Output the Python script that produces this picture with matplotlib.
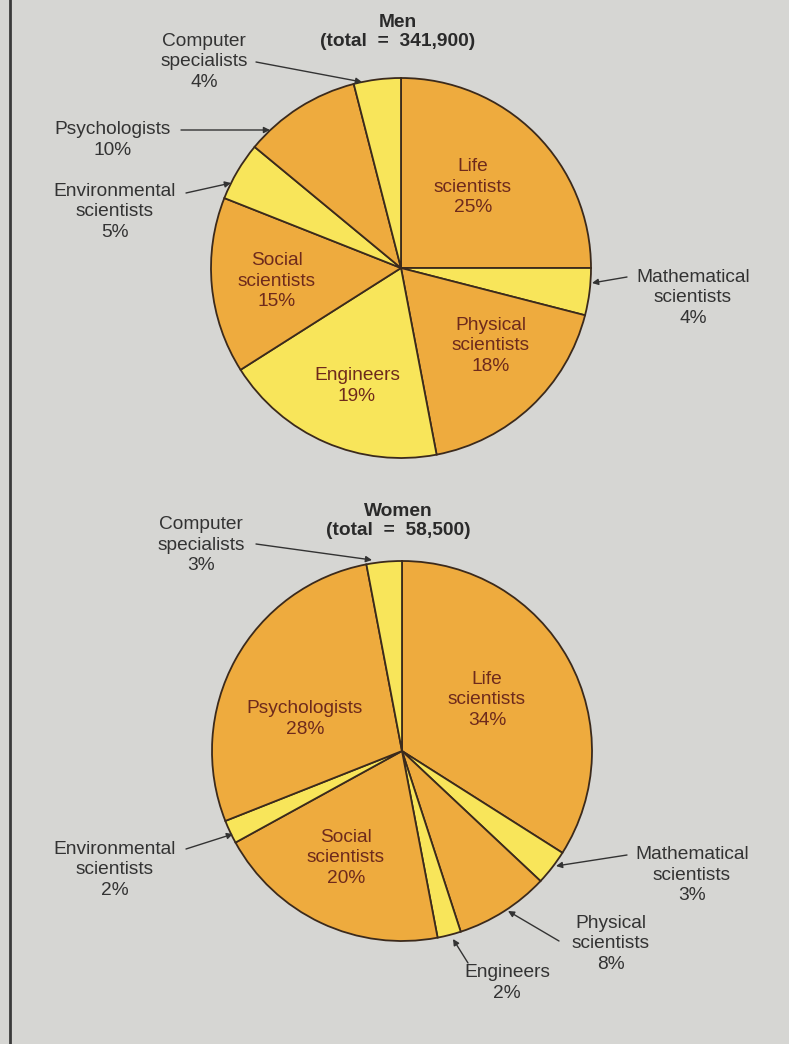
import matplotlib.pyplot as plt

# data
categories = ["Life scientists", "Mathematical scientists", "Physical scientists",
              "Engineers", "Social scientists", "Environmental scientists",
              "Psychologists", "Computer specialists"]
men_values = [25, 4, 18, 19, 15, 5, 10, 4]
women_values = [34, 3, 8, 2, 20, 2, 28, 3]
men_total = "341,900"
women_total = "58,500"

ORANGE = "#eeab3e"
YELLOW = "#f8e55a"
slice_colors = [ORANGE, YELLOW, ORANGE, YELLOW, ORANGE, YELLOW, ORANGE, YELLOW]

W, H = 789, 1044
FS = 13.8
plt.rcParams['font.family'] = ['Liberation Sans', 'DejaVu Sans']

fig = plt.figure(figsize=(W / 100, H / 100), dpi=100)
fig.patch.set_facecolor("#d6d6d3")
ax = fig.add_axes([0, 0, 1, 1])
ax.set_facecolor("#d6d6d3")


def P(x, y):
    # pixel position (from top-left) -> data coords
    return (x, H - y)


def label_text(i, values):
    name = categories[i]
    if name != "Psychologists" and name != "Engineers":
        name = name.replace(" ", "\n")
    return f"{name}\n{values[i]}%"


def draw_pie(values, center, inside, outside):
    ax.pie(values, colors=slice_colors, startangle=90, counterclock=False,
           center=P(*center), radius=190,
           wedgeprops=dict(edgecolor="#3b2a1c", linewidth=1.3))
    # labels inside the slices
    for i, (x, y) in inside.items():
        ax.text(*P(x, y), label_text(i, values), ha="center", va="center",
                fontsize=FS, color="#6e2a1c", linespacing=1.3)
    # labels outside, with arrows to the slice
    for i, (tx, ty, x0, y0, x1, y1) in outside.items():
        ax.text(*P(tx, ty), label_text(i, values), ha="center", va="center",
                fontsize=FS, color="#333333", linespacing=1.3)
        ax.annotate("", xy=P(x1, y1), xytext=P(x0, y0),
                    arrowprops=dict(arrowstyle="-|>", color="#333333", lw=1.0,
                                    mutation_scale=9, shrinkA=0, shrinkB=0))


# Men
draw_pie(men_values, (401, 268),
         inside={0: (473, 187), 2: (491, 346), 3: (357, 386), 4: (277, 281)},
         outside={7: (204, 62, 256, 62, 362, 82),
                  6: (113, 140, 181, 130, 270, 130),
                  5: (115, 212, 186, 193, 231, 183),
                  1: (693, 298, 627, 277, 592, 283)})
ax.text(*P(398, 32), f"Men\n(total  =  {men_total})", ha="center", va="center",
        fontsize=FS, fontweight="bold", color="#2a2a2a", linespacing=1.15)

# Women
draw_pie(women_values, (402, 751),
         inside={0: (487, 700), 6: (305, 719), 4: (346, 858)},
         outside={7: (201, 545, 256, 544, 372, 560),
                  5: (115, 870, 186, 849, 233, 834),
                  1: (692, 875, 627, 855, 556, 866),
                  2: (611, 944, 559, 941, 508, 911),
                  3: (507, 983, 468, 963, 453, 939)})
ax.text(*P(398, 521), f"Women\n(total  =  {women_total})", ha="center", va="center",
        fontsize=FS, fontweight="bold", color="#2a2a2a", linespacing=1.15)

# left border line
ax.plot([10, 10], [0, H], color="#3a3a3a", lw=2)

ax.set_xlim(0, W)
ax.set_ylim(0, H)
ax.set_aspect("auto")
ax.axis("off")

fig.savefig("out.png", dpi=100, facecolor=fig.get_facecolor())
